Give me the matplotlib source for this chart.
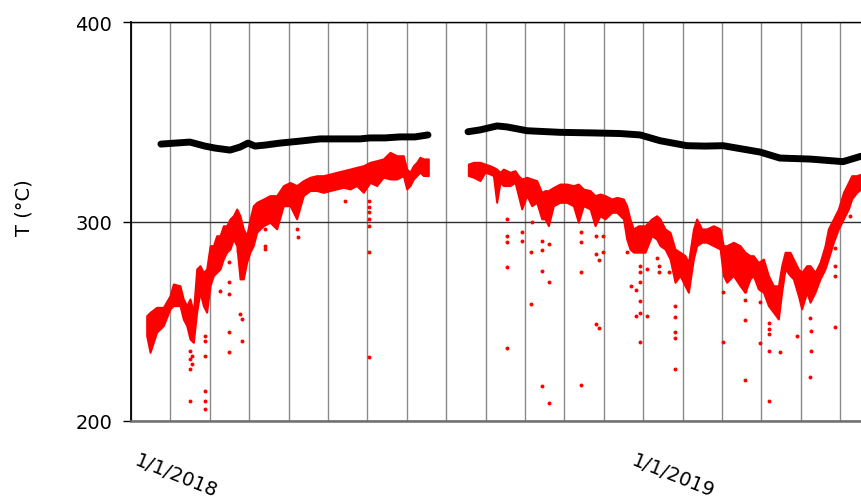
import matplotlib
matplotlib.use("Agg")
import matplotlib.pyplot as plt
from matplotlib.ticker import MultipleLocator

plt.rcParams['font.family'] = ['DejaVu Sans']

# x values are days from the left edge of the axis
# red series, first campaign: upper / lower edge of the dense band
red_a_day = [11.9, 14.5, 19.5, 24.6, 29.7, 32.2, 37.3, 39.8, 42.4, 44.9, 47.5, 50.0,
             52.5, 55.1, 57.6, 60.2, 62.7, 65.2, 67.8, 70.3, 72.8, 75.4, 77.9, 80.5,
             83.0, 85.5, 88.1, 90.6, 93.1, 95.7, 100.8, 105.8, 110.9, 116.0, 121.1,
             126.1, 131.2, 136.3, 141.4, 146.4, 151.5, 156.6, 161.7, 166.7, 171.8,
             176.9, 182.0, 187.0, 192.1, 197.2, 202.3, 207.3, 209.9, 212.4, 215.0,
             217.5, 220.0, 222.6, 226.4]
red_a_hi = [252.8, 254.5, 257.0, 257.0, 262.8, 268.7, 267.8, 261.2, 257.8, 261.2, 254.5,
            276.2, 277.9, 274.5, 276.2, 287.9, 287.9, 292.9, 292.9, 297.9, 297.9, 301.3,
            302.9, 306.3, 302.9, 296.3, 292.9, 301.3, 307.9, 309.6, 311.3, 313.0, 313.0,
            318.0, 319.6, 318.0, 320.5, 322.2, 323.0, 323.0, 323.8, 324.7, 325.5, 326.3,
            327.2, 328.0, 329.7, 330.5, 331.4, 334.7, 333.0, 333.0, 326.3, 324.7, 328.0,
            329.7, 332.2, 331.4, 331.4]
red_a_lo = [242.8, 234.4, 244.5, 247.8, 256.2, 257.8, 257.8, 251.1, 247.8, 241.1, 239.4,
            254.5, 264.5, 257.8, 254.5, 267.8, 272.9, 274.5, 276.2, 281.2, 284.6, 286.2,
            291.2, 287.9, 271.2, 271.2, 279.6, 284.6, 287.9, 294.6, 297.9, 299.6, 296.3,
            307.9, 307.9, 301.3, 313.0, 315.5, 315.5, 314.6, 315.5, 316.3, 317.1, 316.3,
            318.0, 314.6, 319.6, 318.0, 322.2, 321.3, 321.3, 323.0, 316.3, 318.0, 321.3,
            323.0, 324.7, 323.0, 323.0]

# red series, second campaign
red_b_day = [256.8, 260.7, 265.7, 269.5, 273.3, 275.9, 278.4, 281.0, 283.5, 288.6, 292.4,
             294.9, 297.5, 301.3, 305.1, 308.9, 312.7, 315.2, 317.8, 321.6, 326.6, 331.7,
             336.8, 340.6, 344.4, 349.5, 353.3, 357.1, 360.9, 366.0, 369.8, 374.9, 377.4,
             379.9, 382.5, 386.3, 391.4, 396.4, 400.2, 402.8, 406.6, 410.4, 414.2, 418.0,
             421.8, 424.4, 428.2, 430.7, 434.5, 438.3, 443.4, 448.5, 451.0, 453.5, 458.6,
             463.7, 467.5, 471.3, 473.8, 477.6, 481.5, 485.3, 489.1, 492.9, 495.4, 498.0,
             501.8, 504.3, 508.1, 510.6, 514.5, 517.0, 520.8, 524.6, 528.4, 530.9, 534.8,
             538.6, 542.4, 546.2, 548.7, 552.5, 555.8]
red_b_hi = [328.8, 329.7, 329.7, 328.8, 328.0, 327.2, 326.3, 324.7, 326.3, 324.7, 325.5,
            323.0, 321.3, 322.2, 321.3, 320.5, 314.6, 315.5, 315.5, 317.1, 318.8, 318.8,
            318.0, 318.8, 316.3, 315.5, 313.0, 313.8, 313.0, 311.3, 312.1, 311.3, 307.9,
            301.3, 296.3, 297.9, 297.9, 301.3, 302.9, 301.3, 296.3, 294.6, 286.2, 284.6,
            282.9, 279.5, 296.3, 301.3, 296.3, 296.3, 297.9, 296.3, 287.9, 287.9, 289.6,
            287.9, 284.6, 282.9, 282.9, 279.5, 281.2, 272.9, 267.8, 267.8, 277.9, 284.6,
            284.6, 281.2, 276.2, 274.5, 277.9, 277.9, 274.5, 279.5, 287.9, 296.3, 301.3,
            306.3, 314.6, 319.6, 323.0, 323.0, 323.8]
red_b_lo = [323.0, 322.2, 320.5, 324.7, 323.8, 323.0, 309.6, 319.6, 318.0, 318.0, 319.6,
            313.0, 306.3, 313.0, 307.9, 309.6, 301.3, 301.3, 297.9, 307.9, 309.6, 309.6,
            307.9, 299.6, 307.9, 306.3, 297.9, 302.9, 301.3, 304.6, 304.6, 301.3, 291.2,
            286.2, 284.6, 284.6, 284.6, 292.9, 291.2, 287.9, 286.2, 281.2, 269.5, 272.9,
            267.8, 264.5, 281.2, 287.9, 289.6, 289.6, 287.9, 286.2, 272.9, 269.5, 272.9,
            267.8, 264.5, 271.2, 272.9, 266.2, 264.5, 257.8, 254.5, 251.1, 264.5, 276.2,
            272.9, 271.2, 262.8, 256.2, 264.5, 259.5, 264.5, 271.2, 276.2, 281.2, 289.6,
            296.3, 301.3, 306.3, 311.3, 314.6, 316.3]

# isolated low readings of the red series
red_pts_day = [44.9, 44.9, 46.2, 46.2, 44.9, 44.9, 56.3, 56.3, 56.3, 56.3, 56.3, 56.3,
               67.8, 74.6, 74.6, 74.6, 74.6, 74.6, 83.0, 84.3, 84.3, 81.7, 102.0, 102.0,
               102.0, 126.1, 127.4, 180.9, 180.9, 180.9, 180.9, 180.9, 180.9, 180.9, 163.0,
               286.0, 286.0, 286.0, 286.0, 286.0, 297.5, 297.5, 305.1, 304.6, 304.6,
               312.7, 312.7, 312.7, 312.7, 318.5, 318.5, 318.5, 342.4, 342.4, 342.4, 342.4,
               354.1, 354.1, 356.6, 354.1, 356.6, 359.1, 359.1, 377.4, 380.4, 384.5,
               387.6, 387.6, 387.6, 387.6, 387.6, 384.5, 392.6, 387.6, 392.6, 400.2,
               402.0, 402.0, 409.6, 414.5, 414.5, 414.5, 414.5, 414.5, 451.0, 451.0,
               467.5, 467.5, 467.5, 467.5, 478.9, 478.9, 483.5, 485.8, 485.8, 485.8,
               485.8, 485.8, 494.1, 506.9, 517.0, 517.6, 517.6, 517.0, 536.0, 536.0,
               536.0, 536.0, 547.5]
red_pts_T = [235.3, 231.1, 232.8, 228.6, 226.1, 210.2, 242.8, 240.3, 232.8, 215.2, 210.2,
             206.0, 265.3, 279.5, 269.5, 263.7, 244.5, 234.4, 253.6, 251.1, 240.3, 285.4,
             287.9, 286.2, 296.3, 296.3, 292.1, 310.5, 307.1, 304.6, 301.3, 297.9, 284.6,
             231.9, 310.5, 301.3, 292.9, 289.9, 277.0, 236.4, 294.6, 290.4, 299.6, 284.9,
             258.7, 290.4, 285.7, 275.0, 217.7, 288.7, 269.9, 209.0, 294.6, 289.9, 274.7,
             218.2, 292.9, 283.7, 280.7, 248.6, 246.5, 284.6, 292.6, 284.9, 267.8, 265.8,
             277.9, 274.5, 269.5, 260.3, 254.1, 252.5, 252.8, 239.4, 276.2, 281.6, 277.9,
             274.5, 274.5, 257.8, 252.0, 244.8, 241.6, 226.1, 264.5, 239.4, 265.4, 260.7,
             250.6, 220.6, 259.8, 239.1, 267.0, 249.1, 246.1, 243.6, 235.3, 210.2, 234.4,
             242.8, 251.5, 245.0, 235.3, 221.9, 286.7, 277.9, 272.9, 247.3, 302.9]

# black series
black_a_day = [22.8, 33.5, 44.9, 56.3, 64.0, 75.4, 83.0, 89.1, 94.4, 102.0, 113.4, 128.7,
               143.9, 159.1, 174.4, 182.0, 193.4, 204.8, 216.2, 226.1]
black_a_T = [338.8, 339.3, 339.8, 337.8, 336.8, 335.8, 337.3, 339.3, 337.8, 338.3, 339.3,
             340.3, 341.4, 341.4, 341.4, 341.9, 341.9, 342.4, 342.4, 343.4]
black_b_day = [256.6, 265.7, 278.7, 286.3, 301.5, 326.6, 351.8, 372.3, 387.6, 402.8, 423.3,
               437.0, 450.8, 479.0, 494.1, 517.0, 542.1, 555.8]
black_b_T = [345.0, 345.9, 347.9, 347.4, 345.5, 344.7, 344.4, 344.1, 343.4, 340.5, 338.0,
             337.8, 338.0, 334.8, 331.8, 331.3, 330.0, 332.7]

label_days = [6.5, 384.3]
label_text = ['1/1/2018', '1/1/2019']

fig = plt.figure(figsize=(8.61, 5.02), dpi=100)
ax = fig.add_axes([131 / 861, 80 / 502, 730 / 861, 399 / 502])

for d, hi, lo in [(red_a_day, red_a_hi, red_a_lo), (red_b_day, red_b_hi, red_b_lo)]:
    ax.fill_between(d, lo, hi, facecolor='#ff0000', edgecolor='#ff0000', lw=1.4, zorder=3)
ax.scatter(red_pts_day, red_pts_T, s=8, color='#ff0000', lw=0, zorder=3)

for d, t in [(black_a_day, black_a_T), (black_b_day, black_b_T)]:
    ax.plot(d, t, color='black', lw=5, solid_capstyle='round', solid_joinstyle='round', zorder=4)

ax.set_xlim(0, 555.8)
ax.set_ylim(200, 400)
ax.set_axisbelow(True)

ax.set_yticks([200, 300, 400])
ax.tick_params(axis='y', length=6, width=1, direction='out', pad=7.5, labelsize=14)

ax.xaxis.set_minor_locator(MultipleLocator(30))
ax.set_xticks(label_days)
ax.set_xticklabels(label_text)
ax.tick_params(axis='x', which='both', length=0, pad=21, labelsize=14)
for lab in ax.get_xticklabels():
    lab.set_rotation(-22)
    lab.set_ha('left')
    lab.set_va('top')
    lab.set_rotation_mode('anchor')

ax.grid(axis='x', which='minor', color='#8a8a8a', lw=1.0)
ax.grid(axis='x', which='major', visible=False)
ax.grid(axis='y', which='major', color='#303030', lw=1.0)

ax.spines['right'].set_visible(False)
ax.spines['top'].set_color('black')
ax.spines['top'].set_linewidth(1.0)
ax.spines['left'].set_linewidth(1.3)
ax.spines['bottom'].set_color('#6e6e6e')
ax.spines['bottom'].set_linewidth(1.8)

fig.text(24 / 861, 1 - 208 / 502, 'T (°C)', rotation=90, ha='center', va='center', fontsize=14)

fig.savefig('out.png', dpi=100)
